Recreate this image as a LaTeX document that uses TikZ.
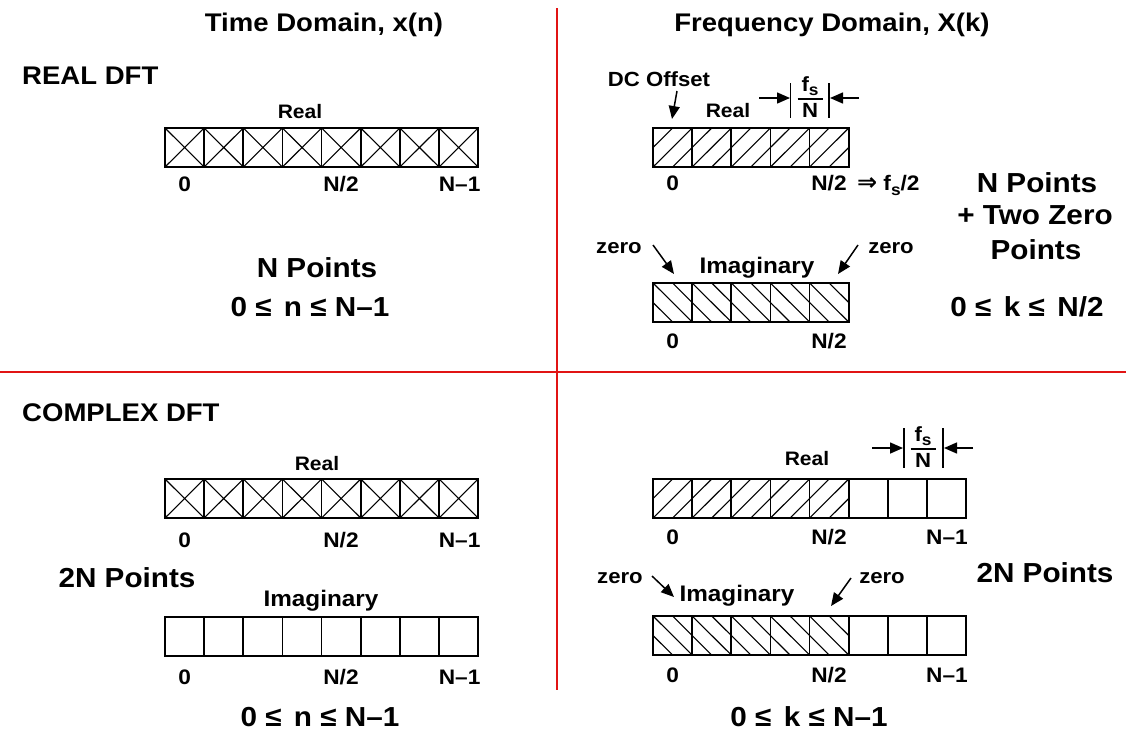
\documentclass[tikz,border=0pt]{standalone}
\usepackage{fontspec}
\setmainfont[FakeStretch=1.08]{Liberation Sans}
\newfontfamily\djv{DejaVu Sans}
\usetikzlibrary{arrows.meta}
\definecolor{divred}{RGB}{225,20,20}
\def\cw{39.15}
\def\ch{39}
\newcommand\myXcells[3]{%
  \foreach \i in {1,...,#3}{%
    \draw[xline] ({#1+(\i-1)*\cw},#2) -- ++(\cw,\ch) ({#1+\i*\cw},#2) -- ++(-\cw,\ch);
    \draw[cellbox] ({#1+(\i-1)*\cw},#2) rectangle ++(\cw,\ch);
  }}
\newcommand\myNEcells[3]{%
  \foreach \i in {1,...,#3}{%
    \begin{scope}
      \clip ({#1+(\i-1)*\cw},#2) rectangle ++(\cw,\ch);
      \foreach \o in {-0.5,0,0.5}{\draw[hline] ({#1+(\i-1+\o)*\cw},{#2+\ch}) -- ++(\cw,-\ch);}
    \end{scope}
    \draw[cellbox] ({#1+(\i-1)*\cw},#2) rectangle ++(\cw,\ch);
  }}
\newcommand\mySEcells[3]{%
  \foreach \i in {1,...,#3}{%
    \begin{scope}
      \clip ({#1+(\i-1)*\cw},#2) rectangle ++(\cw,\ch);
      \foreach \o in {-0.5,0,0.5}{\draw[hline] ({#1+(\i-1+\o)*\cw},#2) -- ++(\cw,\ch);}
    \end{scope}
    \draw[cellbox] ({#1+(\i-1)*\cw},#2) rectangle ++(\cw,\ch);
  }}
\newcommand\myPcells[3]{%
  \foreach \i in {1,...,#3}{%
    \draw[cellbox] ({#1+(\i-1)*\cw},#2) rectangle ++(\cw,\ch);
  }}
\newcommand\fsub{f\raisebox{-0.42ex}{\fontsize{16}{16}\selectfont s}}
\begin{document}
\begin{tikzpicture}[x=1pt,y=-1pt,
  cellbox/.style={draw=black,line width=1.7pt},
  xline/.style={draw=black,line width=1.1pt},
  hline/.style={draw=black,line width=1.1pt},
  divider/.style={draw=divred,line width=1.4pt},
  arr/.style={-{Triangle[length=13pt,width=11pt]},line width=1.5pt},
  bar/.style={line width=1.3pt},
  t26/.style={inner sep=0pt,font=\bfseries\fontsize{25.5}{25.5}\selectfont,text height=18.3pt,text depth=0pt},
  t28/.style={inner sep=0pt,font=\bfseries\fontsize{27.5}{27.5}\selectfont,text height=19.7pt,text depth=0pt},
  t21/.style={inner sep=0pt,font=\bfseries\fontsize{21}{21}\selectfont,text height=15pt,text depth=0pt},
  t20/.style={inner sep=0pt,font=\bfseries\fontsize{20.5}{20.5}\selectfont,text height=14.7pt,text depth=0pt},
  t19/.style={inner sep=0pt,font=\bfseries\fontsize{19.5}{19.5}\selectfont,text height=14pt,text depth=0pt},
  t22/.style={inner sep=0pt,font=\bfseries\fontsize{22.5}{22.5}\selectfont,text height=16.1pt,text depth=0pt},
]
\useasboundingbox (0,0) rectangle (1126,732);
\fill[white] (0,0) rectangle (1126,732);

% dividers
\coordinate (vtop) at (557,8);
\coordinate (vbot) at (557,690);
\coordinate (hl) at (0,372);
\coordinate (hr) at (1126,372);
\draw[divider] (vtop) -- (vbot);
\draw[divider] (hl) -- (hr);

% headers
\node[t26] (hTime) at (324,22) {Time Domain, x(n)};
\node[t26] (hFreq) at (832,22) {Frequency Domain, X(k)};
\node[t26,anchor=west] (realdft) at (22,75) {REAL DFT};
\node[t26,anchor=west] (cplxdft) at (22,412) {COMPLEX DFT};

% ---------- top left ----------
\node[t19] (tlReal) at (300,111) {Real};
\myXcells{165}{128}{8}
\node[t21] (tl0) at (184.6,183.5) {0};
\node[t21] (tlN2) at (341,183.5) {N/2};
\node[t21] (tlN1) at (459.6,183.5) {N--1};
\node[t28] (tlNP) at (317,268) {N Points};
\node[t28] (tlRange) at (310,307) {0 ≤\hspace{0.45em}n ≤ N--1};

% ---------- top right ----------
\node[t20] (dc) at (659,79) {DC Offset};
\coordinate (dcA) at (677,91);
\coordinate (dcB) at (672,119);
\draw[arr] (dcA) -- (dcB);
\node[t19] (trReal) at (728,110) {Real};
\coordinate (trb1t) at (790.7,83);
\coordinate (trb1b) at (790.7,118);
\coordinate (trb2t) at (829,83);
\coordinate (trb2b) at (829,118);
\draw[bar] (trb1t) -- (trb1b);
\draw[bar] (trb2t) -- (trb2b);
\coordinate (tra1) at (759,98);
\coordinate (tra1e) at (790,98);
\coordinate (tra2) at (859,98);
\coordinate (tra2e) at (830,98);
\draw[arr] (tra1) -- (tra1e);
\draw[arr] (tra2) -- (tra2e);
\node[t20] (trfs) at (810,84) {\fsub};
\node[t20] (trN) at (810,110.5) {N};
\coordinate (trfl) at (797.5,99);
\coordinate (trfr) at (822.5,99);
\draw[bar] (trfl) -- (trfr);
\myNEcells{653}{128}{5}
\node[t21] (tr0) at (672.6,183) {0};
\node[t21] (trN2) at (829,183) {N/2};
\node[t21,anchor=west] (trfs2) at ([xshift=10pt]trN2.east) {{\djv\bfseries\fontsize{24}{24}\selectfont ⇒} \fsub/2};
\node[t20] (trz1) at (619,246) {zero};
\node[t20] (trz2) at (891,246) {zero};
\coordinate (trz1a) at (653,245);
\coordinate (trz1b) at (674,274);
\coordinate (trz2a) at (858,245);
\coordinate (trz2b) at (838,274);
\draw[arr] (trz1a) -- (trz1b);
\draw[arr] (trz2a) -- (trz2b);
\node[t22] (trImag) at (757,265) {Imaginary};
\mySEcells{653}{283}{5}
\node[t21] (tri0) at (672.6,341) {0};
\node[t21] (triN2) at (829,341) {N/2};
\node[t28] (trNP) at (1037,183) {N Points};
\node[t28] (trTwo) at (1035,215) {+ Two Zero};
\node[t28] (trPts) at (1036,250) {Points};
\node[t28] (trRange) at (1027,307) {0 ≤\hspace{0.45em}k ≤\hspace{0.45em}N/2};

% ---------- bottom left ----------
\node[t19] (blReal) at (317,463) {Real};
\myXcells{165}{479}{8}
\node[t21] (bl0) at (184.6,540) {0};
\node[t21] (blN2) at (341,540) {N/2};
\node[t21] (blN1) at (459.6,540) {N--1};
\node[t28] (bl2N) at (127,578) {2N Points};
\node[t22] (blImag) at (321,598) {Imaginary};
\myPcells{165}{617}{8}
\node[t21] (bli0) at (184.6,677) {0};
\node[t21] (bliN2) at (341,677) {N/2};
\node[t21] (bliN1) at (459.6,677) {N--1};
\node[t28] (blRange) at (320,717) {0 ≤\hspace{0.45em}n ≤ N--1};

% ---------- bottom right ----------
\coordinate (brb1t) at (904,428);
\coordinate (brb1b) at (904,468);
\coordinate (brb2t) at (943,428);
\coordinate (brb2b) at (943,468);
\draw[bar] (brb1t) -- (brb1b);
\draw[bar] (brb2t) -- (brb2b);
\coordinate (bra1) at (872,448);
\coordinate (bra1e) at (903,448);
\coordinate (bra2) at (973,448);
\coordinate (bra2e) at (944,448);
\draw[arr] (bra1) -- (bra1e);
\draw[arr] (bra2) -- (bra2e);
\node[t20] (brfs) at (923,434) {\fsub};
\node[t20] (brN) at (923,460.5) {N};
\coordinate (brfl) at (910.5,449);
\coordinate (brfr) at (935.5,449);
\draw[bar] (brfl) -- (brfr);
\node[t19] (brReal) at (807,458) {Real};
\myNEcells{653}{479}{5}
\myPcells{848.75}{479}{3}
\node[t21] (br0) at (672.6,537) {0};
\node[t21] (brN2) at (829,537) {N/2};
\node[t21] (brN1) at (947,537) {N--1};
\node[t20] (brz1) at (620,576) {zero};
\node[t20] (brz2) at (882,576) {zero};
\coordinate (brz1a) at (652,576);
\coordinate (brz1b) at (674,597);
\coordinate (brz2a) at (851,578);
\coordinate (brz2b) at (831,606);
\draw[arr] (brz1a) -- (brz1b);
\draw[arr] (brz2a) -- (brz2b);
\node[t22] (brImag) at (737,593) {Imaginary};
\mySEcells{653}{616}{5}
\myPcells{848.75}{616}{3}
\node[t21] (bri0) at (672.6,675) {0};
\node[t21] (briN2) at (829,675) {N/2};
\node[t21] (briN1) at (947,675) {N--1};
\node[t28] (br2N) at (1045,573) {2N Points};
\node[t28] (brRange) at (809,717) {0 ≤\hspace{0.45em}k ≤ N--1};
\end{tikzpicture}
\end{document}
